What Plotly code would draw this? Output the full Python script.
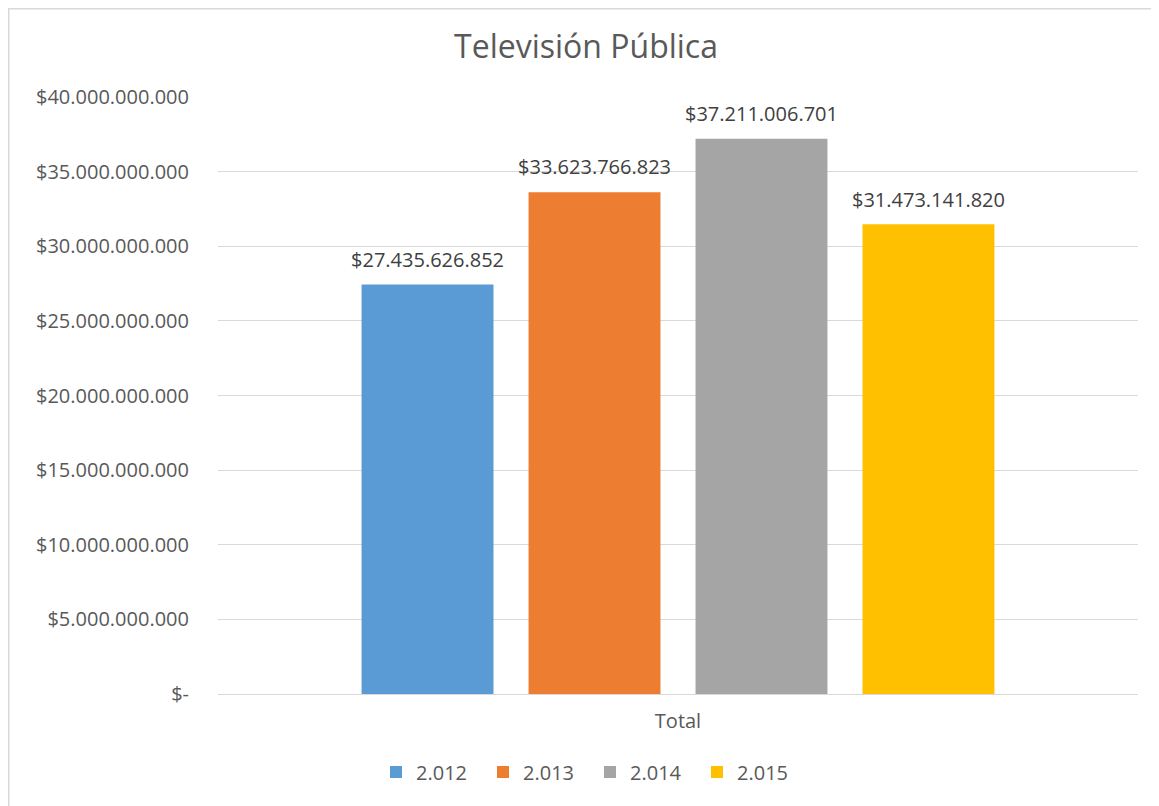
import plotly.graph_objects as go

categories = ["Total"]
series_names = ["2.012", "2.013", "2.014", "2.015"]
series_values = [27435626852, 33623766823, 37211006701, 31473141820]
series_colors = ["#5B9BD5", "#ED7D31", "#A5A5A5", "#FFC000"]
y_tickvals = [0, 5e9, 10e9, 15e9, 20e9, 25e9, 30e9, 35e9, 40e9]
y_ticktext = ["$-", "$5.000.000.000", "$10.000.000.000", "$15.000.000.000",
              "$20.000.000.000", "$25.000.000.000", "$30.000.000.000",
              "$35.000.000.000", "$40.000.000.000"]


def fmt(v):
    return "$" + f"{v:,.0f}".replace(",", ".")


FONT = "Open Sans, Noto Sans, sans-serif"
fig = go.Figure()
for name, val, col in zip(series_names, series_values, series_colors):
    label = ("<span style='font-size:20px'>" + fmt(val) + "</span><br>&nbsp;")
    fig.add_trace(go.Bar(
        x=categories, y=[val], name=name, marker=dict(color=col, line=dict(width=0)),
        text=[label], textposition="outside", cliponaxis=False, constraintext="none",
        textfont=dict(family=FONT, size=9, color="#404040"),
    ))

# page has an 8px body margin; figure coordinates are relative to that
W, H = 1151, 798
L, R, T, B = 210, 21, 89, 112
pw, ph = W - L - R, H - T - B

fig.update_layout(
    width=W, height=H,
    margin=dict(l=L, r=R, t=T, b=B),
    paper_bgcolor="white", plot_bgcolor="white",
    barmode="group", bargap=0.274, bargroupgap=0.21,
    title=dict(text="Televisión Pública", x=(586 - 8) / W, xanchor="center",
               y=1 - 39 / H, yanchor="middle",
               font=dict(family=FONT, size=32, color="#595959")),
    font=dict(family=FONT, size=20, color="#595959"),
    showlegend=True,
    legend=dict(orientation="h", x=(590 - 8 - L) / pw, xanchor="center",
                y=-(764 - (T + ph)) / ph, yanchor="middle",
                font=dict(family=FONT, size=20, color="#595959"),
                entrywidth=62, entrywidthmode="pixels", traceorder="normal"),
    uniformtext=dict(mode=False),
)
fig.update_yaxes(range=[0, 40e9], tickvals=y_tickvals, ticktext=y_ticktext,
                 showgrid=True, gridcolor="#D9D9D9", gridwidth=1,
                 zeroline=True, zerolinecolor="#D9D9D9", zerolinewidth=1,
                 showline=False, ticks="", ticklabelstandoff=28,
                 tickfont=dict(family=FONT, size=20, color="#595959"))
fig.update_xaxes(showgrid=False, showline=False, ticks="", ticklabelstandoff=13,
                 tickfont=dict(family=FONT, size=20, color="#595959"))

# outer chart border (only top and left edges visible in frame)
fig.add_shape(type="rect", xref="paper", yref="paper",
              x0=(0 - L) / pw, x1=(W + 20 - L) / pw,
              y0=-(H + 20 - T - ph) / ph, y1=(T + ph - 0) / ph,
              line=dict(color="#D9D9D9", width=3), fillcolor="rgba(0,0,0,0)",
              layer="below")

fig.write_html("out.html")
